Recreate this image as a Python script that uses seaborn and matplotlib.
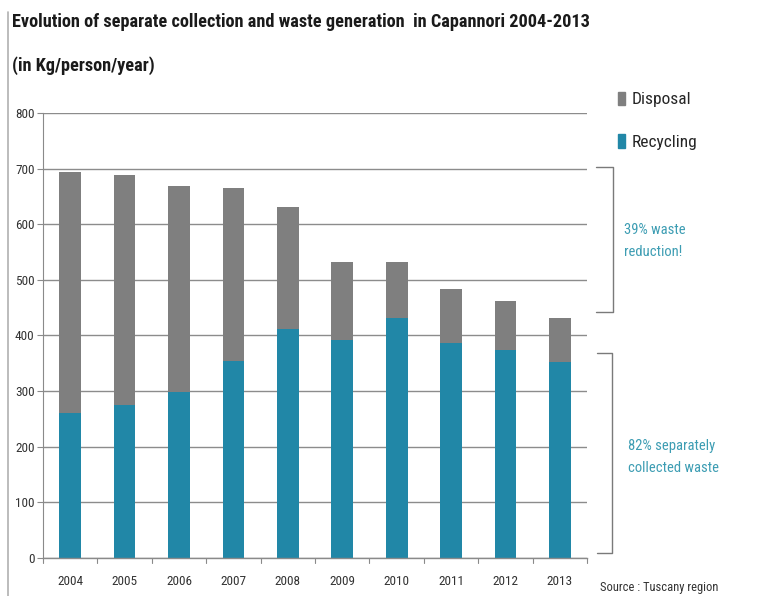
import matplotlib
matplotlib.use("Agg")
import matplotlib.pyplot as plt
import matplotlib.patches as mpatches
from matplotlib.lines import Line2D
from matplotlib import font_manager
import seaborn as sns
import pandas as pd

years = ["2004", "2005", "2006", "2007", "2008", "2009", "2010", "2011", "2012", "2013"]
total_waste = [694, 688, 669, 665, 631, 533, 533, 484, 462, 431]
recycling = [260, 275, 298, 354, 411, 391, 431, 387, 374, 353]
yticks = [0, 100, 200, 300, 400, 500, 600, 700, 800]

GREY = "#7f7f7f"
TEAL = "#2187a7"
NOTE = "#3d9db3"

sns.set_theme(style="white")
installed = {f.name for f in font_manager.fontManager.ttflist}
families = [f for f in ["Roboto Condensed", "Liberation Sans Narrow", "Roboto"] if f in installed]
plt.rcParams["font.family"] = families + ["DejaVu Sans"]

df = pd.DataFrame({"year": years, "total": total_waste, "recycling": recycling})

fig = plt.figure(figsize=(7.6, 5.96), dpi=100)
ax = fig.add_axes([0.0566, 0.0638, 0.7158, 0.7466])

sns.barplot(data=df, x="year", y="total", color=GREY, width=0.4,
            saturation=1, linewidth=0, ax=ax)
sns.barplot(data=df, x="year", y="recycling", color=TEAL, width=0.4,
            saturation=1, linewidth=0, ax=ax)

ax.set_ylim(0, 800)
ax.set_xlim(-0.5, len(years) - 0.5)
ax.set_yticks(yticks)
ax.set_yticklabels([str(v) for v in yticks], fontsize=9.5, color="#333333")
ax.tick_params(axis="x", labelsize=9.5, colors="#333333", length=0, pad=12)
ax.tick_params(axis="y", length=4, width=0.8, color="#8a8a8a", pad=2, left=True)
ax.set_xlabel("")
ax.set_ylabel("")
ax.yaxis.grid(True, color="#8c8c8c", linewidth=1.0)
ax.set_axisbelow(True)
for s in ["top", "right"]:
    ax.spines[s].set_visible(False)
ax.spines["left"].set_color("#8a8a8a")
ax.spines["bottom"].set_color("#8a8a8a")
ax.spines["left"].set_linewidth(0.8)
ax.spines["bottom"].set_linewidth(1.0)

# category separators below the baseline
for b in range(len(years) + 1):
    ax.add_line(Line2D([b - 0.5, b - 0.5], [0, -0.012], transform=ax.get_xaxis_transform(),
                       color="#8a8a8a", linewidth=0.8, clip_on=False))

# titles: size the headline so it spans the plot width
title = fig.text(12 / 760, 1 - 22 / 596,
                 "Evolution of separate collection and waste generation  in Capannori 2004-2013",
                 fontsize=14, fontweight="bold", color="#1a1a1a", ha="left", va="center")
renderer = fig.canvas.get_renderer()
w = title.get_window_extent(renderer).width
title.set_fontsize(14 * 578 / w)
fig.text(12 / 760, 1 - 66 / 596, "(in Kg/person/year)",
         fontsize=title.get_fontsize(), fontweight="bold", color="#1a1a1a",
         ha="left", va="center")

# legend
handles = [mpatches.Patch(color=GREY, label="Disposal"),
           mpatches.Patch(color=TEAL, label="Recycling")]
fig.legend(handles=handles, loc="upper left", bbox_to_anchor=(609 / 760, 1 - 83 / 596),
           frameon=False, fontsize=12.5, handlelength=0.45, handleheight=0.8,
           handletextpad=0.35, labelspacing=1.55, borderpad=0)

# brackets on the right
def bracket(y0, y1, x0, x1):
    fig.add_artist(Line2D([x0 / 760, x1 / 760, x1 / 760, x0 / 760],
                          [1 - y0 / 596, 1 - y0 / 596, 1 - y1 / 596, 1 - y1 / 596],
                          color="#7a7a7a", linewidth=1.0))

bracket(167, 312, 596, 613)
bracket(353, 553, 597, 612)

fig.text(624 / 760, 1 - 241 / 596, "39% waste\nreduction!", fontsize=10.5, color=NOTE,
         ha="left", va="center", linespacing=1.7)
fig.text(628 / 760, 1 - 457 / 596, "82% separately\ncollected waste", fontsize=10.5, color=NOTE,
         ha="left", va="center", linespacing=1.7)
fig.text(600 / 760, 1 - 588 / 596, "Source : Tuscany region", fontsize=9, color="#333333",
         ha="left", va="center")

# left frame line
fig.add_artist(Line2D([8 / 760, 8 / 760], [0, 1 - 12 / 596], color="#b0b0b0", linewidth=1.2))

fig.savefig("out.png", dpi=100)
